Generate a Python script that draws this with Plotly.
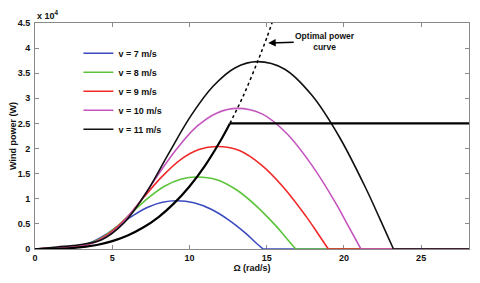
import plotly.graph_objects as go

# Rotor speed (rad/s) and power (W)
omega_v7 = [0, 0.92, 1.83, 2.75, 3.67, 4.59, 5.5, 6.42, 7.34, 8.25, 9.17, 10.29, 11.41, 12.53, 13.65, 14.21, 14.77]
power_v7 = [0, 100, 220, 480, 1340, 2880, 4900, 6800, 8350, 9300, 9600, 9200, 7900, 5800, 3100, 1500, 0]

omega_v8 = [0, 1.05, 2.1, 3.14, 4.19, 5.24, 6.29, 7.34, 8.38, 9.43, 10.48, 11.76, 13.04, 14.32, 15.6, 16.24, 16.88]
power_v8 = [0, 160, 330, 720, 2000, 4300, 7300, 10200, 12500, 13900, 14340, 13800, 11800, 8600, 4600, 2300, 0]

omega_v9 = [0, 1.18, 2.36, 3.54, 4.72, 5.9, 7.07, 8.25, 9.43, 10.61, 11.79, 13.23, 14.67, 16.11, 17.55, 18.27, 18.99]
power_v9 = [0, 220, 470, 1000, 2900, 6100, 10400, 14500, 17800, 19800, 20400, 19600, 16700, 12200, 6500, 3300, 0]

omega_v10 = [0, 1.31, 2.62, 3.93, 5.24, 6.55, 7.86, 9.17, 10.48, 11.79, 13.1, 14.7, 16.3, 17.9, 19.5, 20.3, 21.1]
power_v10 = [0, 310, 640, 1400, 3900, 8400, 14300, 19900, 24400, 27100, 28000, 26900, 23000, 16800, 9000, 4500, 0]

omega_v11 = [0, 1.44, 2.88, 4.32, 5.76, 7.2, 8.65, 10.09, 11.53, 12.97, 14.41, 16.17, 17.93, 19.69, 21.45, 22.33, 23.21]
power_v11 = [0, 410, 860, 1860, 5200, 11200, 19000, 26500, 32400, 36100, 37300, 35800, 30600, 22400, 11900, 6000, 0]

# Operating curve (MPPT then rated power) and optimal power curve continuation
omega_mppt = [0, 2, 4, 5, 6, 7, 8, 9, 10, 11, 12, 12.62]
power_mppt = [0, 100, 800, 1560, 2690, 4270, 6370, 9080, 12450, 16570, 21510, 25000]
omega_rated = [12.62, 28.1]
power_rated = [25000, 25000]
omega_opt = [12.62, 13.5, 14.41, 15.0, 15.5]
power_opt = [25000, 30600, 37300, 42000, 46400]

omega_max = 28.1
series_names = ["v = 7 m/s", "v = 8 m/s", "v = 9 m/s", "v = 10 m/s", "v = 11 m/s"]
series_colors = ["#3b4bbf", "#5cc43a", "#f02a2a", "#c455be", "#111111"]

x_ticks = [0, 5, 10, 15, 20, 25]
y_tickvals = [0, 5000, 10000, 15000, 20000, 25000, 30000, 35000, 40000, 45000]
y_ticktext = ["0", "0.5", "1", "1.5", "2", "2.5", "3", "3.5", "4", "4.5"]

FONT = "Arial, Liberation Sans, sans-serif"

fig = go.Figure()
all_omega = [omega_v7, omega_v8, omega_v9, omega_v10, omega_v11]
all_power = [power_v7, power_v8, power_v9, power_v10, power_v11]
for name, col, om, pw in zip(series_names, series_colors, all_omega, all_power):
    fig.add_trace(go.Scatter(x=om, y=pw, mode="lines", name=name, legendgroup=name,
                             line=dict(color=col, width=1.6, shape="spline")))
    fig.add_trace(go.Scatter(x=[om[-1], omega_max], y=[0, 0], mode="lines", legendgroup=name,
                             showlegend=False, line=dict(color=col, width=1.6)))

fig.add_trace(go.Scatter(x=omega_mppt, y=power_mppt, mode="lines", showlegend=False,
                         line=dict(color="#000000", width=2.2, shape="spline")))
fig.add_trace(go.Scatter(x=omega_rated, y=power_rated, mode="lines", showlegend=False,
                         line=dict(color="#000000", width=2.2)))
fig.add_trace(go.Scatter(x=omega_opt, y=power_opt, mode="lines", showlegend=False,
                         line=dict(color="#000000", width=1.5, dash="dot", shape="spline")))

fig.add_annotation(x=15.1, y=41000, ax=57, ay=-2, text="<b>Optimal power<br>curve</b>",
                   showarrow=True, arrowhead=2, arrowsize=1, arrowwidth=1.5, arrowcolor="#000",
                   font=dict(family=FONT, size=8.5, color="#111"), align="center")
fig.add_annotation(xref="paper", yref="paper", x=0, y=1, xanchor="left", yanchor="bottom",
                   text="<b>x 10<sup>4</sup></b>", showarrow=False, xshift=0, yshift=0,
                   font=dict(family=FONT, size=9, color="#111"))

axis_common = dict(showline=True, linecolor="#8a8a8a", linewidth=1, mirror="ticks",
                   ticks="inside", ticklen=4, tickcolor="#8a8a8a", showgrid=False,
                   zeroline=False, layer="below traces", automargin=False,
                   tickfont=dict(family=FONT, size=9, color="#111", weight="bold"))

fig.update_xaxes(range=[0, omega_max], tickvals=x_ticks, ticklabelstandoff=0,
                 title=dict(text="Ω (rad/s)", standoff=2,
                            font=dict(family=FONT, size=9, color="#111", weight="bold")),
                 **axis_common)
fig.update_yaxes(range=[0, 45000], tickvals=y_tickvals, ticktext=y_ticktext, ticklabelstandoff=2,
                 title=dict(text="Wind power (W)", standoff=4,
                            font=dict(family=FONT, size=9, color="#111", weight="bold")),
                 **axis_common)

# The page body has an 8 px default margin, so the figure is sized to fit the 480x283 window
fig.update_layout(
    width=472, height=275,
    margin=dict(l=27, r=11, t=15, b=34),
    paper_bgcolor="white", plot_bgcolor="white",
    showlegend=True,
    legend=dict(x=0.1, y=0.93, xanchor="left", yanchor="top", bgcolor="rgba(255,255,255,0)",
                borderwidth=0, font=dict(family=FONT, size=9, color="#111", weight="bold"),
                tracegroupgap=0),
)

fig.write_html("out.html")
